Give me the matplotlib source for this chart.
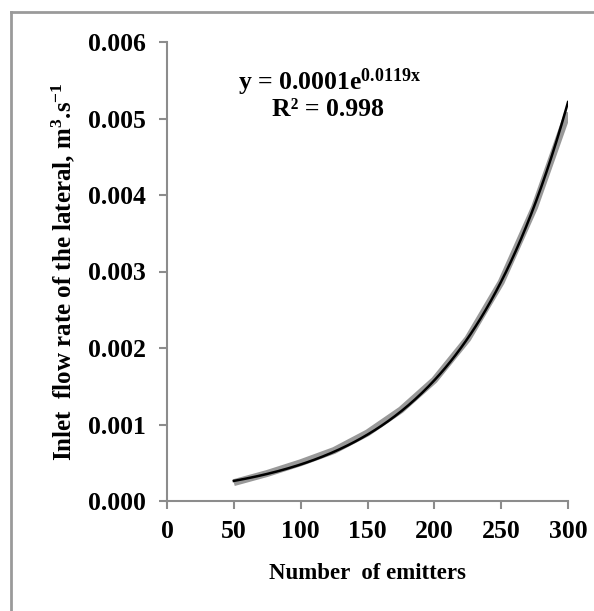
import numpy as np
import matplotlib
matplotlib.use('Agg')
import matplotlib.pyplot as plt
from matplotlib.lines import Line2D

#------------------------------------------------------------------------------------------------
# Values
emitters = [50, 75, 100, 125, 150, 175, 200, 225, 250, 275, 300]
inlet_flow = [0.00024, 0.00036, 0.00050, 0.00066, 0.00089, 0.00119, 0.00158, 0.00212,
              0.00286, 0.00384, 0.00508]
x_ticks = [0, 50, 100, 150, 200, 250, 300]
y_ticks = [0.000, 0.001, 0.002, 0.003, 0.004, 0.005, 0.006]

#------------------------------------------------------------------------------------------------
plt.rcParams['font.family'] = 'Liberation Serif'
plt.rcParams['font.weight'] = 'bold'
plt.rcParams['mathtext.fontset'] = 'custom'
plt.rcParams['mathtext.rm'] = 'Liberation Serif:bold'
plt.rcParams['mathtext.it'] = 'Liberation Serif:bold'
plt.rcParams['mathtext.bf'] = 'Liberation Serif:bold'

W, H = 594, 611
figure = plt.figure(figsize=(W / 100, H / 100), dpi=100)
ax = figure.add_axes([167 / W, 1 - 501 / H, (568 - 167) / W, (501 - 42) / H])

# Outer chart-area border (only left and top edges are visible in the crop)
border = '#9a9a9a'
figure.add_artist(Line2D([11 / W, 11 / W], [0, 1 - 12 / H], color=border, linewidth=2.0))
figure.add_artist(Line2D([11 / W, 1], [1 - 12 / H, 1 - 12 / H], color=border, linewidth=2.0))

# Exponential trend line fitted to the data
b, ln_a = np.polyfit(emitters, np.log(inlet_flow), 1)
x_fit = np.linspace(min(emitters), max(emitters), 200)
y_fit = np.exp(ln_a) * np.exp(b * x_fit)

ax.plot(emitters, inlet_flow, color='#999999', linewidth=5.0, solid_capstyle='butt', zorder=2)
ax.plot(x_fit, y_fit, color='black', linewidth=1.8, zorder=3)

ax.set_xlim(0, 300)
ax.set_ylim(0, 0.006)
ax.set_xticks(x_ticks)
ax.set_yticks(y_ticks)
ax.set_yticklabels(['%.3f' % v for v in y_ticks])
ax.tick_params(axis='both', which='major', direction='out', length=6, width=1.5,
               color='#8c8c8c', labelsize=18.5)
ax.tick_params(axis='x', pad=8)
ax.tick_params(axis='y', pad=9)
for side in ['top', 'right']:
    ax.spines[side].set_visible(False)
for side in ['left', 'bottom']:
    ax.spines[side].set_color('#8c8c8c')
    ax.spines[side].set_linewidth(1.5)

ax.set_xlabel('Number  of emitters', fontsize=16.5, fontweight='bold', labelpad=14)
ax.set_ylabel(r'Inlet  flow rate of the lateral, m$^{3}$.s$^{-1}$', fontsize=18,
              fontweight='bold', labelpad=8)

ax.text(0.406, 0.912, r'y = 0.0001e$^{0.0119x}$', transform=ax.transAxes, ha='center',
        va='center', fontsize=18.5, fontweight='bold')
ax.text(0.401, 0.853, 'R² = 0.998', transform=ax.transAxes, ha='center', va='center',
        fontsize=18.5, fontweight='bold')

figure.savefig('out.png', dpi=100)
